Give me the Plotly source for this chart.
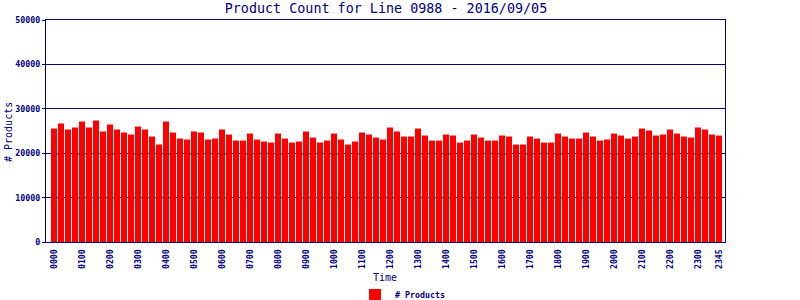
import plotly.graph_objects as go

times = [f"{h:02d}{m:02d}" for h in range(24) for m in (0, 15, 30, 45)]
products = [
    25560, 26690, 25340, 25790, 27140, 25790, 27370, 24890,
    26460, 25340, 24660, 24210, 26010, 25340, 23760, 21950,
    27140, 24660, 23300, 23080, 24890, 24660, 23080, 23300,
    25340, 24210, 22850, 22850, 24430, 23080, 22630, 22400,
    24430, 23300, 22400, 22630, 24890, 23530, 22400, 22850,
    24430, 23080, 21950, 22630, 24660, 24210, 23530, 23080,
    25790, 24890, 23760, 23760, 25560, 23980, 22850, 22850,
    24210, 23980, 22400, 22850, 24210, 23530, 22850, 22850,
    23980, 23760, 21950, 21950, 23760, 23300, 22400, 22400,
    24430, 23760, 23300, 23300, 24660, 23760, 22850, 23080,
    24430, 23980, 23300, 23760, 25560, 25110, 23980, 24210,
    25340, 24430, 23760, 23530, 25790, 25340, 24210, 23980,
]
tick_labels = times[::4] + [times[-1]]
y_ticks = [0, 10000, 20000, 30000, 40000, 50000]

navy = "#000080"
mono = "DejaVu Sans Mono"

fig = go.Figure()
fig.add_trace(go.Bar(
    x=times, y=products, name="# Products",
    marker=dict(color="#FF0000", line=dict(width=0)),
))

fig.update_layout(
    width=800, height=300,
    margin=dict(l=46, r=75, t=20, b=58, autoexpand=False),
    paper_bgcolor="white", plot_bgcolor="white",
    bargap=1/7,
    title=dict(text="Product Count for Line 0988 - 2016/09/05",
               x=386/800, xanchor="center", y=1-8/300, yanchor="middle",
               font=dict(family=mono, size=13.4, color=navy)),
    showlegend=True,
    legend=dict(orientation="h", x=(355-46)/679, xanchor="left",
                y=(242-295)/222, yanchor="middle",
                font=dict(family=mono, size=8.3, color=navy, weight="bold"),
                bgcolor="rgba(0,0,0,0)"),
    xaxis=dict(
        type="category", categoryorder="array", categoryarray=times,
        range=[-1.14, 95.86],
        tickmode="array", tickvals=tick_labels, ticktext=tick_labels,
        tickangle=-90, ticks="", ticklabelstandoff=3,
        tickfont=dict(family=mono, size=8.2, color=navy, weight="bold"),
        showgrid=False, showline=True, linecolor=navy, linewidth=1, mirror=True,
    ),
    yaxis=dict(
        range=[0, 50000], tickvals=y_ticks, ticktext=[str(v) for v in y_ticks],
        ticks="outside", ticklen=3, tickcolor=navy,
        tickfont=dict(family=mono, size=8.3, color=navy, weight="bold"),
        showgrid=True, gridcolor=navy, gridwidth=1,
        zeroline=False, showline=True, linecolor=navy, linewidth=1, mirror=True,
    ),
    annotations=[
        dict(text="Time", xref="paper", yref="paper", x=(385-46)/679, y=(242-277)/222,
             xanchor="center", yanchor="middle", showarrow=False,
             font=dict(family=mono, size=10, color=navy)),
        dict(text="# Products", xref="paper", yref="paper", x=(8-46)/679,
             y=(242-132)/222, xanchor="center", yanchor="middle", textangle=-90,
             showarrow=False, font=dict(family=mono, size=10, color=navy)),
    ],
)

fig.write_html("out.html")
